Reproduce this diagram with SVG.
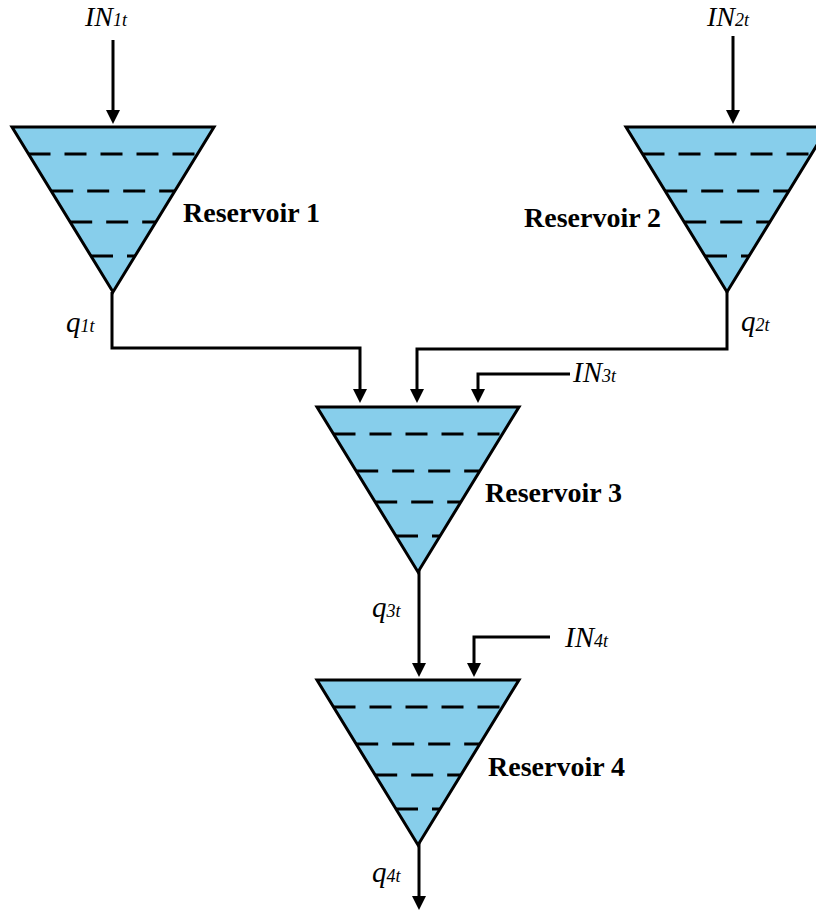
<svg xmlns="http://www.w3.org/2000/svg" xmlns:xlink="http://www.w3.org/1999/xlink" width="816" height="913" viewBox="0 0 816 913">
<style>
.tank{fill:#87CEEB;stroke:#000;stroke-width:3;stroke-linejoin:miter}
.lvl{stroke:#000;stroke-width:3;stroke-dasharray:22 14;fill:none}
.wire{fill:none;stroke:#000;stroke-width:3}
.lbl{font-family:"Liberation Serif","Times New Roman",serif;font-weight:bold;font-size:28px;fill:#000}
.var{font-family:"Liberation Serif","Times New Roman",serif;font-style:italic;font-size:29px;fill:#000}
.top{font-size:28px}
.sub{font-size:18px}
</style>
<defs>
<marker id="ah" viewBox="0 0 14 14" refX="8" refY="7" markerWidth="14" markerHeight="14" orient="auto" markerUnits="userSpaceOnUse">
<path d="M0,0 L14,7 L0,14 z" fill="#000"/>
</marker>
<g id="res">
<polygon class="tank" points="0,0 202,0 101,165"/>
<line class="lvl" x1="16.5" y1="27" x2="185.5" y2="27"/>
<line class="lvl" x1="39.2" y1="64" x2="162.8" y2="64"/>
<line class="lvl" x1="58.2" y1="95" x2="143.8" y2="95"/>
<line class="lvl" x1="79" y1="129" x2="123" y2="129"/>
</g>
</defs>
<g id="connectors">
<path class="wire" d="M113,40 V118" marker-end="url(#ah)"/>
<path class="wire" d="M733,36 V118" marker-end="url(#ah)"/>
<path class="wire" d="M112,292 V348 H360 V397" marker-end="url(#ah)"/>
<path class="wire" d="M727,292 V349 H417 V397" marker-end="url(#ah)"/>
<path class="wire" d="M570,374 H478 V397" marker-end="url(#ah)"/>
<path class="wire" d="M419,570 V671" marker-end="url(#ah)"/>
<path class="wire" d="M550,637 H474 V671" marker-end="url(#ah)"/>
<path class="wire" d="M419,843 V904" marker-end="url(#ah)"/>
</g>
<g id="reservoir1">
<use xlink:href="#res" href="#res" transform="translate(12,127)"/>
<text class="lbl" x="183" y="222">Reservoir 1</text>
</g>
<g id="reservoir2">
<use xlink:href="#res" href="#res" transform="translate(626,127)"/>
<text class="lbl" x="524" y="227">Reservoir 2</text>
</g>
<g id="reservoir3">
<use xlink:href="#res" href="#res" transform="translate(317,407)"/>
<text class="lbl" x="485" y="502">Reservoir 3</text>
</g>
<g id="reservoir4">
<use xlink:href="#res" href="#res" transform="translate(317,680)"/>
<text class="lbl" x="488" y="776">Reservoir 4</text>
</g>
<g id="labels">
<text class="var top" x="85" y="26">IN<tspan class="sub">1t</tspan></text>
<text class="var top" x="707" y="26">IN<tspan class="sub">2t</tspan></text>
<text class="var" x="573" y="382">IN<tspan class="sub">3t</tspan></text>
<text class="var" x="565" y="647">IN<tspan class="sub">4t</tspan></text>
<text class="var" x="66" y="332">q<tspan class="sub">1t</tspan></text>
<text class="var" x="741" y="331">q<tspan class="sub">2t</tspan></text>
<text class="var" x="372" y="617">q<tspan class="sub">3t</tspan></text>
<text class="var" x="372" y="882">q<tspan class="sub">4t</tspan></text>
</g>
</svg>
